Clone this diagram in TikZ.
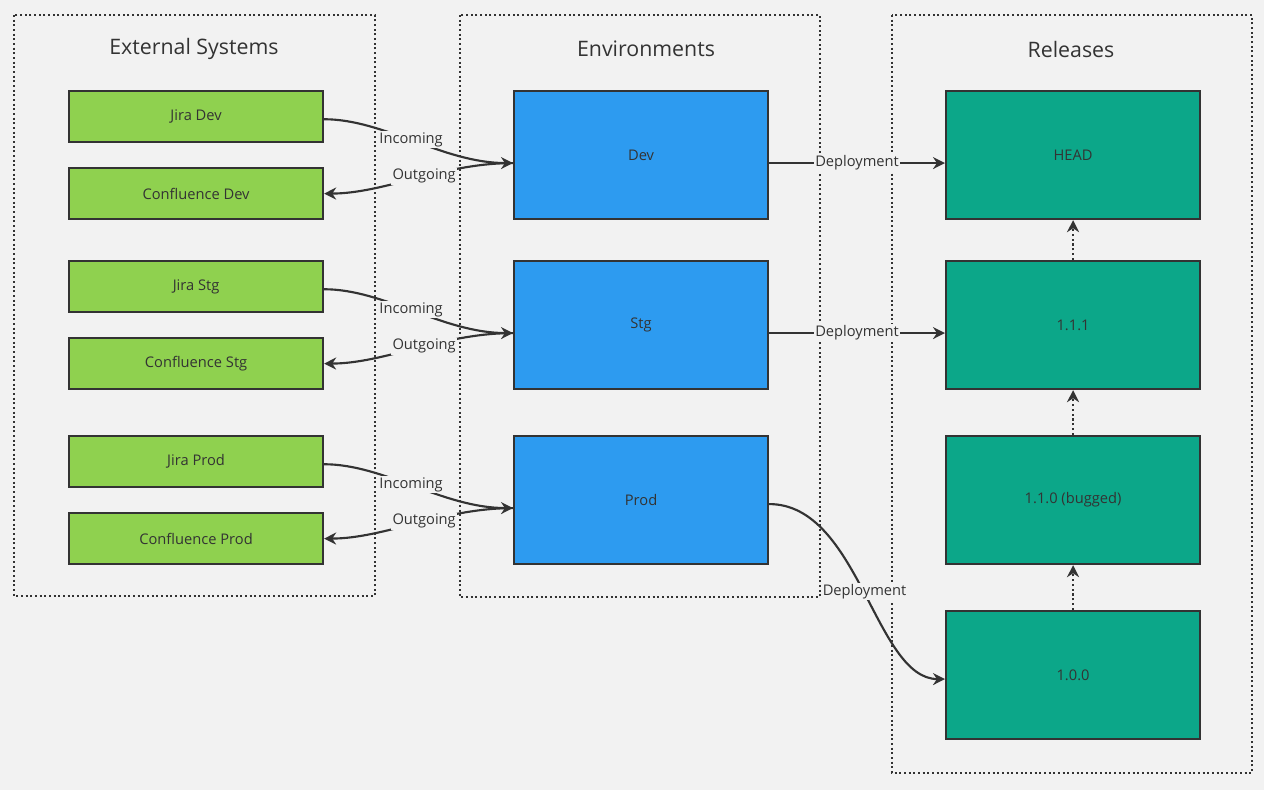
\documentclass[tikz,border=0pt]{standalone}
\usepackage{fontspec}
\setmainfont{Open Sans}
\usetikzlibrary{arrows.meta}
\definecolor{bg}{HTML}{F2F2F2}
\definecolor{grn}{HTML}{8FD14F}
\definecolor{blu}{HTML}{2D9BF0}
\definecolor{tea}{HTML}{0CA789}
\definecolor{ink}{HTML}{333333}
\tikzset{
 cont/.style={draw=ink,line width=1.5pt,dotted,fill=none},
 ttl/.style={font=\fontsize{16}{18}\selectfont,text=ink},
 box/.style={draw=ink,line width=1.6pt,anchor=north west,text=ink,font=\fontsize{11}{13}\selectfont,inner sep=0pt},
 gb/.style={box,fill=grn,minimum width=190.5pt,minimum height=38.25pt},
 bb/.style={box,fill=blu,minimum width=190.5pt,minimum height=96pt},
 tb/.style={box,fill=tea,minimum width=190.5pt,minimum height=96pt},
 con/.style={draw=ink,line width=1.6pt,-{Stealth[length=9pt,width=9pt]}},
 lbl/.style={fill=bg,text=ink,font=\fontsize{11}{13}\selectfont,inner sep=1pt},
 dot/.style={con,dotted}
}
\begin{document}
\begin{tikzpicture}[x=0.75pt,y=-0.75pt]
\fill[bg] (0,0) rectangle (1264,790);
\useasboundingbox (0,0) rectangle (1264,790);
\draw[cont] (14,15) rectangle (375,596);
\draw[cont] (460,15) rectangle (820,597);
\draw[cont] (892,15) rectangle (1252,773);
\node[ttl] (t1) at (194,49) {External Systems};
\node[ttl] (t2) at (646,49) {Environments};
\node[ttl] (t3) at (1071,49) {Releases};
\node[gb] (jd) at (68,90) {Jira Dev};
\node[gb] (cd) at (68,167) {Confluence Dev};
\node[gb] (js) at (68,260) {Jira Stg};
\node[gb] (cs) at (68,337) {Confluence Stg};
\node[gb] (jp) at (68,435) {Jira Prod};
\node[gb] (cp) at (68,512) {Confluence Prod};
\node[bb] (dev) at (513,90) {Dev};
\node[bb] (stg) at (513,260) {Stg};
\node[bb] (prod) at (513,435) {Prod};
\node[tb] (head) at (945,90) {HEAD};
\node[tb] (r111) at (945,260) {1.1.1};
\node[tb] (r110) at (945,435) {1.1.0 (bugged)};
\node[tb] (r100) at (945,610) {1.0.0};
\foreach \j/\c/\e in {jd/cd/dev,js/cs/stg,jp/cp/prod}{
 \draw[con] ([yshift=-2pt]\j.east) .. controls +(60,0) and +(-70,0) .. ([yshift=-6pt]\e.west) node[lbl,pos=0.48] {Incoming};
 \draw[con] ([yshift=-6pt]\e.west) .. controls +(-70,0) and +(60,0) .. (\c.east) node[lbl,pos=0.45] {Outgoing};
}
\draw[con] ([yshift=-6pt]dev.east) -- ([yshift=-6pt]head.west) node[lbl,midway] {Deployment};
\draw[con] ([yshift=-6pt]stg.east) -- ([yshift=-6pt]r111.west) node[lbl,midway] {Deployment};
\draw[con] ([yshift=-3pt]prod.east) .. controls +(90,0) and +(-70,0) .. ([yshift=-3pt]r100.west) node[lbl,pos=0.5] {Deployment};
\draw[dot] (r100.north) -- (r110.south);
\draw[dot] (r110.north) -- (r111.south);
\draw[dot] (r111.north) -- (head.south);
\end{tikzpicture}
\end{document}
